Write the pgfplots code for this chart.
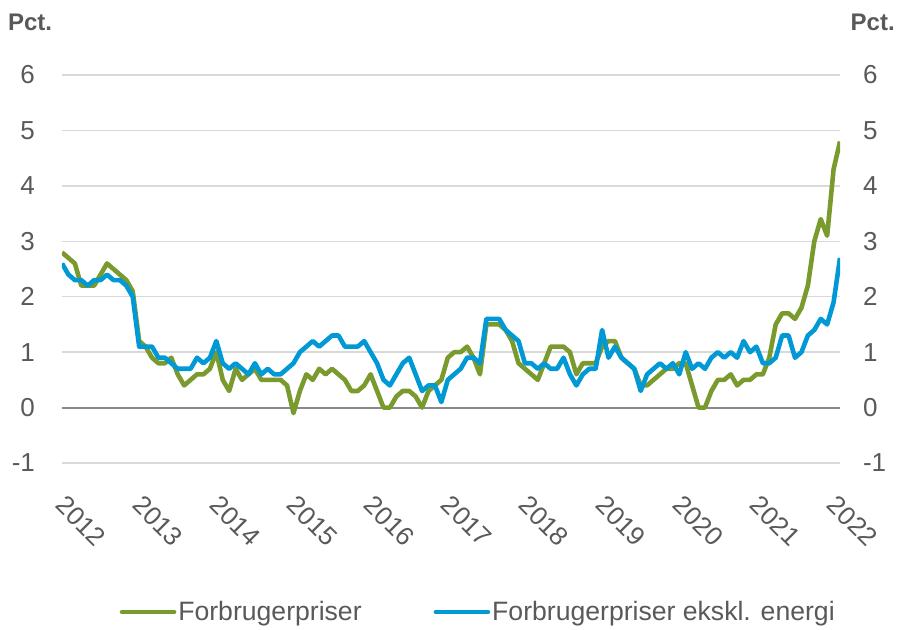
\documentclass[border=0pt]{standalone}
\usepackage{pgfplots}
\pgfplotsset{compat=1.18}
\usepackage{pgfplotstable}
\usepackage{fontspec}
\setmainfont{Liberation Sans}
\definecolor{cpigreen}{RGB}{122,154,46}
\definecolor{coreblue}{RGB}{0,153,214}
\definecolor{txtgray}{RGB}{89,89,89}
\definecolor{gridgray}{RGB}{217,217,217}
\definecolor{zerogray}{RGB}{137,137,137}

% month index 0 = Jan 2012, 121 = Feb 2022
\pgfplotstableread{
m cpi core
0 2.8 2.6
1 2.7 2.4
2 2.6 2.3
3 2.2 2.3
4 2.2 2.2
5 2.2 2.3
6 2.4 2.3
7 2.6 2.4
8 2.5 2.3
9 2.4 2.3
10 2.3 2.2
11 2.1 2.0
12 1.2 1.1
13 1.1 1.1
14 0.9 1.1
15 0.8 0.9
16 0.8 0.9
17 0.9 0.8
18 0.6 0.7
19 0.4 0.7
20 0.5 0.7
21 0.6 0.9
22 0.6 0.8
23 0.7 0.9
24 1.0 1.2
25 0.5 0.8
26 0.3 0.7
27 0.7 0.8
28 0.5 0.7
29 0.6 0.6
30 0.7 0.8
31 0.5 0.6
32 0.5 0.7
33 0.5 0.6
34 0.5 0.6
35 0.4 0.7
36 -0.1 0.8
37 0.3 1.0
38 0.6 1.1
39 0.5 1.2
40 0.7 1.1
41 0.6 1.2
42 0.7 1.3
43 0.6 1.3
44 0.5 1.1
45 0.3 1.1
46 0.3 1.1
47 0.4 1.2
48 0.6 1.0
49 0.3 0.8
50 0.0 0.5
51 0.0 0.4
52 0.2 0.6
53 0.3 0.8
54 0.3 0.9
55 0.2 0.6
56 0.0 0.3
57 0.3 0.4
58 0.4 0.4
59 0.5 0.1
60 0.9 0.5
61 1.0 0.6
62 1.0 0.7
63 1.1 0.9
64 0.9 0.9
65 0.6 0.8
66 1.5 1.6
67 1.5 1.6
68 1.5 1.6
69 1.4 1.4
70 1.2 1.3
71 0.8 1.2
72 0.7 0.8
73 0.6 0.8
74 0.5 0.7
75 0.8 0.8
76 1.1 0.7
77 1.1 0.7
78 1.1 0.9
79 1.0 0.6
80 0.6 0.4
81 0.8 0.6
82 0.8 0.7
83 0.8 0.7
84 1.1 1.4
85 1.2 0.9
86 1.2 1.1
87 0.9 0.9
88 0.8 0.8
89 0.7 0.7
90 0.4 0.3
91 0.4 0.6
92 0.5 0.7
93 0.6 0.8
94 0.7 0.7
95 0.7 0.8
96 0.8 0.6
97 0.8 1.0
98 0.4 0.7
99 0.0 0.8
100 0.0 0.7
101 0.3 0.9
102 0.5 1.0
103 0.5 0.9
104 0.6 1.0
105 0.4 0.9
106 0.5 1.2
107 0.5 1.0
108 0.6 1.1
109 0.6 0.8
110 0.9 0.8
111 1.5 0.9
112 1.7 1.3
113 1.7 1.3
114 1.6 0.9
115 1.8 1.0
116 2.2 1.3
117 3.0 1.4
118 3.4 1.6
119 3.1 1.5
120 4.3 1.9
121 4.8 2.7
}\infl

\pgfplotsset{
  base/.style={
    scale only axis, width=389pt, height=194pt,
    xmin=0, xmax=121, ymin=-1, ymax=6,
    ytick={-1,0,...,6},
    /pgf/number format/assume math mode=true,
    major tick length=0pt,
    axis line style={draw=none},
    tick label style={font=\fontsize{13}{15}\selectfont, text=txtgray},
  }
}

\begin{document}
\begin{tikzpicture}
\begin{axis}[base, clip mode=individual,
  ymajorgrids, grid style={gridgray, line width=0.75pt},
  extra y ticks={0}, extra y tick labels={},
  extra y tick style={grid style={zerogray, line width=1pt}},
  yticklabel style={anchor=east, xshift=-10pt},
  xtick={0,12,...,120},
  xticklabels={2012,2013,2014,2015,2016,2017,2018,2019,2020,2021,2022},
  xticklabel style={rotate=-45, anchor=north west, inner sep=0pt, xshift=12.5pt, yshift=-9pt},
  legend style={at={(0.535,-0.384)}, anchor=center, draw=none, fill=none,
    legend columns=2, font=\fontsize{13.3}{15}\selectfont, text=txtgray,
    nodes={inner sep=1pt},
    /tikz/every even column/.append style={column sep=35pt}},
  legend image code/.code={\draw[#1, line width=2.3pt, line cap=round] (0pt,0pt) -- (26pt,0pt);},
]
\addplot[cpigreen, line width=2.3pt, line join=round] table[x=m, y=cpi] {\infl};
\addlegendentry{Forbrugerpriser}
\addplot[coreblue, line width=2.3pt, line join=round] table[x=m, y=core] {\infl};
\addlegendentry{Forbrugerpriser ekskl. energi}
\node[font=\bfseries\fontsize{12}{14}\selectfont, text=txtgray] at (rel axis cs:-0.041,1.135) {Pct.};
\node[font=\bfseries\fontsize{12}{14}\selectfont, text=txtgray] at (rel axis cs:1.042,1.135) {Pct.};
\end{axis}
\begin{axis}[base,
  axis x line=none, axis y line*=right,
  yticklabel style={anchor=west, xshift=8pt},
]
\end{axis}
\pgfresetboundingbox
\path[use as bounding box] (-31pt,-83pt) rectangle (418pt,231.5pt);
\end{tikzpicture}
\end{document}
